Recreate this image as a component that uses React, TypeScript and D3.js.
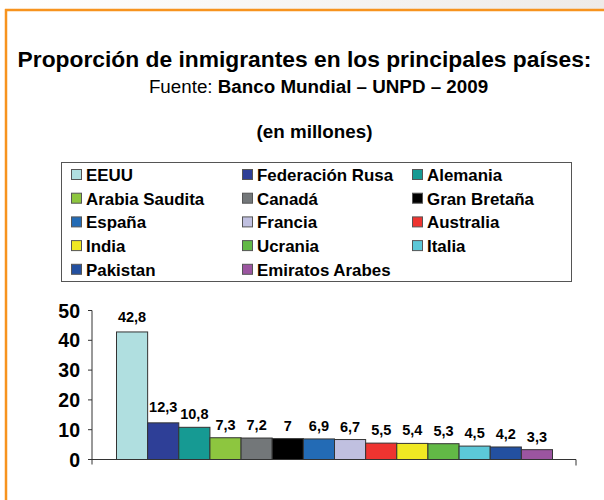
import React from "react";
import * as d3 from "d3";

const countries = ["EEUU", "Federación Rusa", "Alemania", "Arabia Saudita", "Canadá", "Gran Bretaña", "España", "Francia", "Australia", "India", "Ucrania", "Italia", "Pakistan", "Emiratos Arabes"];
const values = [42.8, 12.3, 10.8, 7.3, 7.2, 7, 6.9, 6.7, 5.5, 5.4, 5.3, 4.5, 4.2, 3.3];
const colors = ["#b0dfe0", "#2e3f97", "#169a93", "#8dc63f", "#737779", "#000000", "#236bb5", "#c0c0e0", "#ee3430", "#f0e823", "#62b946", "#5cc8d8", "#2350a0", "#9b55a0"];
const yTicks = [0, 10, 20, 30, 40, 50];

const W = 604, H = 500;
const axisL = 92, axisR = 576;
const y0 = 459.5, yTop = 310.5;

export default function App() {
  const y = d3.scaleLinear().domain([0, 50]).range([y0, yTop]);
  const x = d3.scaleBand().domain(countries).range([axisL + 24.5, axisR - 23.5]).padding(0);
  const fmt = (v: number) => String(v).replace(".", ",");
  const font = "'Liberation Sans', Arial, sans-serif";
  const legendX = [71, 242, 412];
  const legendY0 = 175, legendDy = 23.7;
  return (
    <svg width={W} height={H} style={{ position: "absolute", left: 0, top: 0, fontFamily: font }}>
      <defs>
        <linearGradient id="topbg" x1="0" x2="1" y1="0" y2="0">
          <stop offset="0" stopColor="#ffffff" />
          <stop offset="1" stopColor="#eeebe8" />
        </linearGradient>
      </defs>
      <rect x={0} y={0} width={W} height={H} fill="#fff" />
      <rect x={0} y={0} width={W} height={9} fill="url(#topbg)" />
      <rect x={5} y={9} width={W - 5} height={H - 9} fill="#fff" />
      <line x1={5} x2={W} y1={10} y2={10} stroke="#f7931e" strokeWidth={2.5} />
      <line x1={6} x2={6} y1={9} y2={H} stroke="#f7931e" strokeWidth={2.5} />

      <text x={304.5} y={67} textAnchor="middle" fontSize={22.8} fontWeight="bold" fill="#000">
        Proporción de inmigrantes en los principales países:
      </text>
      <text x={318.5} y={93} textAnchor="middle" fontSize={18.8} fill="#000">
        Fuente: <tspan fontWeight="bold">Banco Mundial – UNPD – 2009</tspan>
      </text>
      <text x={314.5} y={138} textAnchor="middle" fontSize={18.8} fontWeight="bold" fill="#000">
        (en millones)
      </text>

      <rect x={61.5} y={162.5} width={510} height={119} fill="#fff" stroke="#555" strokeWidth={1} />
      {countries.map((c, i) => {
        const r = Math.floor(i / 3), k = i % 3;
        const lx = legendX[k], ly = legendY0 + r * legendDy;
        return (
          <g key={c}>
            <rect x={lx + 0.5} y={ly - 5.5} width={10} height={10} fill={colors[i]} stroke="#555" strokeWidth={1} />
            <text x={lx + 15} y={ly + 6} fontSize={16.9} fontWeight="bold" fill="#000">{c}</text>
          </g>
        );
      })}

      {countries.map((c, i) => (
        <rect key={c} x={x(c)!} y={y(values[i])} width={x.bandwidth()} height={y0 - y(values[i])}
          fill={colors[i]} stroke="#333" strokeWidth={1} />
      ))}
      {countries.map((c, i) => (
        <text key={c} x={x(c)! + x.bandwidth() / 2} y={y(values[i]) - (i === 0 ? 10 : i === 1 ? 11 : 8)} textAnchor="middle"
          fontSize={14.5} fontWeight="bold" fill="#000">{fmt(values[i])}</text>
      ))}

      <line x1={axisL} x2={axisL} y1={yTop} y2={y0 + 5} stroke="#333" strokeWidth={1} />
      <line x1={axisL} x2={axisR} y1={y0} y2={y0} stroke="#333" strokeWidth={1} />
      <line x1={axisR} x2={axisR} y1={y0} y2={y0 + 6} stroke="#333" strokeWidth={1} />
      {yTicks.map(t => (
        <g key={t}>
          <line x1={axisL - 4} x2={axisL} y1={y(t)} y2={y(t)} stroke="#333" strokeWidth={1} />
          <text x={80} y={y(t) + 7} textAnchor="end" fontSize={19.5} fontWeight="bold" fill="#000">{t}</text>
        </g>
      ))}
    </svg>
  );
}
